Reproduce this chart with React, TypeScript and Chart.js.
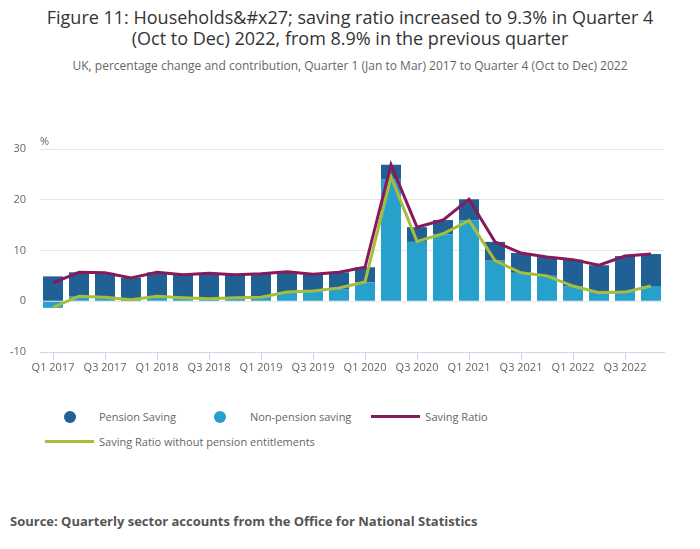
import { useEffect, useRef } from "react";
import Chart from "chart.js/auto";

// --- data ---
const quarters = [
  "Q1 2017", "Q2 2017", "Q3 2017", "Q4 2017",
  "Q1 2018", "Q2 2018", "Q3 2018", "Q4 2018",
  "Q1 2019", "Q2 2019", "Q3 2019", "Q4 2019",
  "Q1 2020", "Q2 2020", "Q3 2020", "Q4 2020",
  "Q1 2021", "Q2 2021", "Q3 2021", "Q4 2021",
  "Q1 2022", "Q2 2022", "Q3 2022", "Q4 2022",
];
const nonPension = [
  -1.3, 0.9, 0.8, 0.3, 0.9, 0.6, 0.4, 0.6, 0.7, 1.7, 1.9, 2.4,
  3.7, 24.1, 11.7, 13.2, 15.9, 8.0, 5.6, 5.0, 2.9, 1.7, 1.8, 3.0,
];
const pension = [
  4.9, 4.8, 4.8, 4.3, 4.8, 4.6, 5.1, 4.6, 4.7, 4.1, 3.4, 3.3,
  3.0, 2.8, 2.9, 2.8, 4.2, 3.7, 3.9, 3.7, 5.3, 5.4, 7.1, 6.3,
];
const savingRatio = [
  3.6, 5.7, 5.6, 4.6, 5.7, 5.2, 5.5, 5.2, 5.4, 5.8, 5.3, 5.7,
  6.7, 26.9, 14.6, 16.0, 20.1, 11.7, 9.5, 8.7, 8.2, 7.1, 8.9, 9.3,
];
const savingRatioExPension = [
  -1.2, 1.0, 0.8, 0.3, 1.0, 0.7, 0.5, 0.7, 0.8, 1.8, 2.0, 2.6,
  3.8, 24.5, 11.8, 13.3, 15.9, 8.0, 5.6, 5.0, 3.0, 1.7, 1.8, 3.0,
];
const yMin = -10;
const yMax = 30;
const yStep = 10;

const COLORS = {
  pension: "#206095",
  nonPension: "#27a0cc",
  ratio: "#871a5b",
  ratioEx: "#a8bd3a",
};

const FONT = "'Open Sans', 'Noto Sans', sans-serif";

// "%" unit label above the top gridline
const percentLabel = {
  id: "percentLabel",
  afterDraw(chart: Chart) {
    const { ctx, chartArea } = chart;
    ctx.save();
    ctx.font = `11px ${FONT}`;
    ctx.fillStyle = "#666666";
    ctx.textAlign = "left";
    ctx.textBaseline = "middle";
    ctx.fillText("%", chartArea.left, chartArea.top - 7);
    ctx.restore();
  },
};

export default function App() {
  const canvasRef = useRef<HTMLCanvasElement | null>(null);

  useEffect(() => {
    document.body.style.margin = "0";
    if (!canvasRef.current) return;
    const chart = new Chart(canvasRef.current, {
      type: "bar",
      data: {
        labels: quarters,
        datasets: [
          {
            type: "line",
            label: "Saving Ratio",
            data: savingRatio,
            borderColor: COLORS.ratio,
            borderWidth: 3,
            pointRadius: 0,
            stack: "ratio",
            order: 0,
          },
          {
            type: "line",
            label: "Saving Ratio without pension entitlements",
            data: savingRatioExPension,
            borderColor: COLORS.ratioEx,
            borderWidth: 3,
            pointRadius: 0,
            stack: "ratioEx",
            order: 0,
          },
          {
            label: "Non-pension saving",
            data: nonPension,
            backgroundColor: COLORS.nonPension,
            stack: "bars",
            order: 1,
          },
          {
            label: "Pension Saving",
            data: pension,
            backgroundColor: COLORS.pension,
            stack: "bars",
            order: 1,
          },
        ],
      },
      options: {
        animation: false,
        responsive: false,
        maintainAspectRatio: false,
        layout: { padding: { left: 0, right: 36, top: 69, bottom: 8 } },
        datasets: { bar: { categoryPercentage: 1, barPercentage: 0.77 } },
        plugins: { legend: { display: false }, tooltip: { enabled: false } },
        scales: {
          x: {
            stacked: true,
            border: { color: "#ccd6eb", width: 1 },
            grid: {
              offset: false,
              drawOnChartArea: false,
              drawTicks: true,
              tickLength: 8,
              color: (c: any) => (c.index % 2 === 0 ? "#ccd6eb" : "rgba(0,0,0,0)"),
            },
            ticks: {
              autoSkip: false,
              maxRotation: 0,
              padding: 1,
              color: "#666666",
              font: { family: FONT, size: 11 },
              callback: (_v: any, i: number) => (i % 2 === 0 ? quarters[i] : ""),
            },
            afterFit: (s: any) => {
              s.height = 30;
            },
          },
          y: {
            stacked: true,
            min: yMin,
            max: yMax,
            border: { display: false },
            grid: {
              drawTicks: false,
              color: (c: any) => (c.tick && c.tick.value === yMin ? "rgba(0,0,0,0)" : "#e6e6e6"),
            },
            ticks: {
              stepSize: yStep,
              padding: 14,
              color: "#666666",
              font: { family: FONT, size: 11 },
            },
            afterFit: (s: any) => {
              s.width = 40;
            },
          },
        },
      },
      plugins: [percentLabel],
    });
    return () => chart.destroy();
  }, []);

  const legend = [
    { label: "Pension Saving", color: COLORS.pension, kind: "dot" },
    { label: "Non-pension saving", color: COLORS.nonPension, kind: "dot" },
    { label: "Saving Ratio", color: COLORS.ratio, kind: "line" },
    { label: "Saving Ratio without pension entitlements", color: COLORS.ratioEx, kind: "line" },
  ];

  return (
    <div style={{ position: "relative", width: 700, height: 549, fontFamily: FONT, background: "#fff" }}>
      <div
        style={{
          position: "absolute",
          top: 7,
          left: 0,
          width: 700,
          textAlign: "center",
          fontSize: 18,
          lineHeight: "21px",
          color: "#333333",
        }}
      >
        Figure 11: Households&amp;#x27; saving ratio increased to 9.3% in Quarter 4
        <br />
        (Oct to Dec) 2022, from 8.9% in the previous quarter
      </div>
      <div
        style={{
          position: "absolute",
          top: 58,
          left: 0,
          width: 700,
          textAlign: "center",
          fontSize: 12,
          lineHeight: "16px",
          color: "#666666",
        }}
      >
        UK, percentage change and contribution, Quarter 1 (Jan to Mar) 2017 to Quarter 4 (Oct to Dec) 2022
      </div>
      <canvas ref={canvasRef} width={700} height={310} style={{ position: "absolute", top: 80, left: 0 }} />
      <div
        style={{
          position: "absolute",
          top: 404,
          left: 45,
          width: 470,
          display: "flex",
          flexWrap: "wrap",
          fontSize: 11,
          color: "#666666",
        }}
      >
        {legend.map((it) => (
          <div key={it.label} style={{ display: "flex", alignItems: "center", height: 25, marginRight: 20 }}>
            <span style={{ width: 49, display: "flex", justifyContent: "center", alignItems: "center" }}>
              {it.kind === "dot" ? (
                <span style={{ width: 12, height: 12, borderRadius: 6, background: it.color }} />
              ) : (
                <span style={{ width: 49, height: 3, background: it.color }} />
              )}
            </span>
            <span style={{ marginLeft: 5 }}>{it.label}</span>
          </div>
        ))}
      </div>
      <div
        style={{
          position: "absolute",
          top: 512,
          left: 10,
          fontSize: 13,
          fontWeight: 700,
          color: "#555555",
        }}
      >
        Source: Quarterly sector accounts from the Office for National Statistics
      </div>
    </div>
  );
}
